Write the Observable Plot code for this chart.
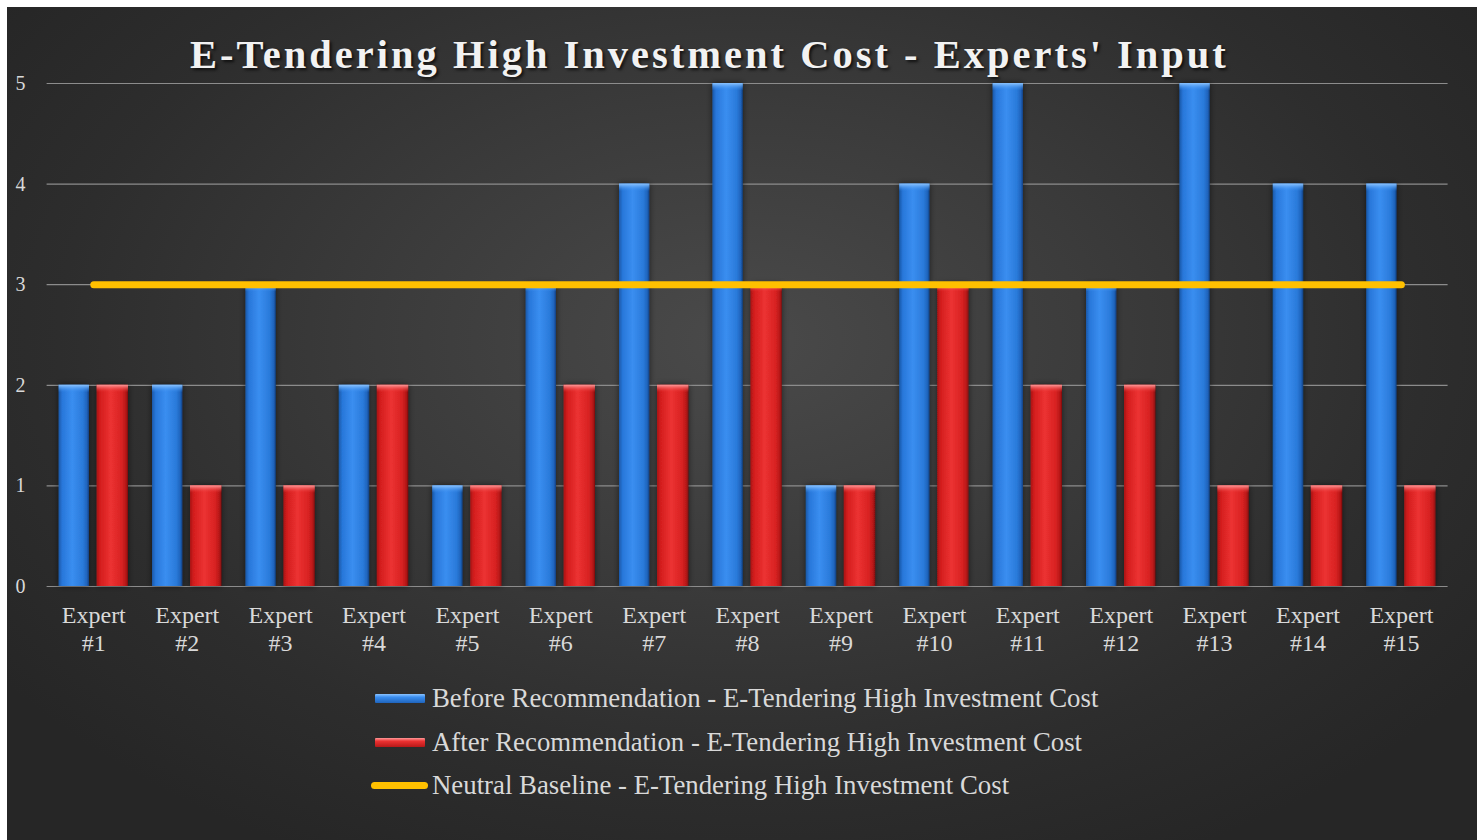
<!DOCTYPE html>
<html>
<head>
<meta charset="utf-8">
<script src="https://cdn.jsdelivr.net/npm/d3@7"></script>
<script src="https://cdn.jsdelivr.net/npm/@observablehq/plot@0.6"></script>
<style>
  html, body { margin: 0; padding: 0; background: #ffffff; }
  #chart {
    position: absolute; left: 7px; top: 7px; width: 1470px; height: 833px; overflow: hidden;
    background: radial-gradient(ellipse 62% 70% at 50% 40%, #4a4a4a 0%, #3b3b3b 40%, #2d2d2d 75%, #262626 100%);
    font-family: "Liberation Serif", "Times New Roman", serif;
  }
  #title {
    position: absolute; left: 183px; top: 28px; white-space: nowrap;
    font-size: 40.5px; line-height: 40px; font-weight: bold; letter-spacing: 3px;
    color: #f2f2f2; text-shadow: 2px 2px 3px rgba(0,0,0,0.7);
  }
  #plot { position: absolute; left: 0; top: 66px; }
  #legend { position: absolute; left: 364px; top: 670px; }
  .row { display: flex; align-items: center; height: 43.5px; color: #d9d9d9; font-size: 26.8px; white-space: nowrap; }
  .sw { width: 50px; height: 9px; margin: 0 7px 0 4px; border-radius: 1px; }
  .sw.line { width: 57px; height: 7px; border-radius: 4px; margin: 0 4px 0 0; background: #ffc000; }
</style>
</head>
<body>
<div id="chart">
  <div id="title"></div>
  <div id="plot"></div>
  <div id="legend"></div>
</div>
<script>
const title = "E-Tendering High Investment Cost - Experts' Input";
const experts = ["Expert #1","Expert #2","Expert #3","Expert #4","Expert #5","Expert #6","Expert #7","Expert #8","Expert #9","Expert #10","Expert #11","Expert #12","Expert #13","Expert #14","Expert #15"];
const before = [2, 2, 3, 2, 1, 3, 4, 5, 1, 4, 5, 3, 5, 4, 4];
const after = [2, 1, 1, 2, 1, 2, 2, 3, 1, 3, 2, 2, 1, 1, 1];
const baseline = [3, 3, 3, 3, 3, 3, 3, 3, 3, 3, 3, 3, 3, 3, 3];
const yTicks = [0, 1, 2, 3, 4, 5];
const seriesNames = [
  "Before Recommendation - E-Tendering High Investment Cost",
  "After Recommendation - E-Tendering High Investment Cost",
  "Neutral Baseline - E-Tendering High Investment Cost"
];

const rows = experts.map((e, i) => ({expert: e, before: before[i], after: after[i], baseline: baseline[i]}));
const capH = 0.075;

document.getElementById("title").textContent = title;

const chart = Plot.plot({
  width: 1470,
  height: 593,
  marginLeft: 39.6,
  marginRight: 29.4,
  marginTop: 10,
  marginBottom: 80,
  style: {background: "transparent", color: "#d9d9d9", fontFamily: "'Liberation Serif', 'Times New Roman', serif", overflow: "visible"},
  x: {domain: experts, padding: 0, round: false, label: null},
  y: {domain: [0, 5], label: null},
  marks: [
    Plot.gridY(yTicks, {stroke: "#8c8c8c", strokeOpacity: 1, strokeWidth: 1.2}),
    Plot.axisY(yTicks, {tickSize: 0, tickPadding: 21.6, fontSize: 20, fill: "#d9d9d9", label: null, tickFormat: d => String(d)}),
    Plot.axisX({tickSize: 0, tickPadding: 17, fontSize: 24, lineHeight: 1.15, fill: "#d9d9d9", label: null, tickFormat: d => d.replace(" ", "\n")}),
    Plot.barY(rows, {x: "expert", y: "before", fill: "url(#gBlue)", insetLeft: 12, insetRight: 51}),
    Plot.barY(rows, {x: "expert", y1: d => d.before - capH, y2: "before", fill: "url(#gBlueTop)", insetLeft: 12, insetRight: 51}),
    Plot.barY(rows, {x: "expert", y: "after", fill: "url(#gRed)", insetLeft: 50, insetRight: 12}),
    Plot.barY(rows, {x: "expert", y1: d => d.after - capH, y2: "after", fill: "url(#gRedTop)", insetLeft: 50, insetRight: 12}),
    Plot.lineY(rows, {x: "expert", y: "baseline", stroke: "#ffc000", strokeWidth: 7, strokeLinecap: "round"})
  ]
});

const defs = `
<defs>
  <linearGradient id="gBlue" x1="0" x2="1" y1="0" y2="0">
    <stop offset="0" stop-color="#1a58a8"/>
    <stop offset="0.12" stop-color="#2877da"/>
    <stop offset="0.45" stop-color="#3a8ef0"/>
    <stop offset="0.8" stop-color="#2a7ada"/>
    <stop offset="0.93" stop-color="#1f64bc"/>
    <stop offset="1" stop-color="#123f80"/>
  </linearGradient>
  <linearGradient id="gBlueTop" x1="0" x2="0" y1="0" y2="1">
    <stop offset="0" stop-color="#8cc4ff"/>
    <stop offset="1" stop-color="#3a8ef0" stop-opacity="0"/>
  </linearGradient>
  <linearGradient id="gRed" x1="0" x2="1" y1="0" y2="0">
    <stop offset="0" stop-color="#a81414"/>
    <stop offset="0.12" stop-color="#d41e1e"/>
    <stop offset="0.45" stop-color="#ec3232"/>
    <stop offset="0.8" stop-color="#d82222"/>
    <stop offset="0.93" stop-color="#b81818"/>
    <stop offset="1" stop-color="#7e0e0e"/>
  </linearGradient>
  <linearGradient id="gRedTop" x1="0" x2="0" y1="0" y2="1">
    <stop offset="0" stop-color="#ff9a9a"/>
    <stop offset="1" stop-color="#ec3232" stop-opacity="0"/>
  </linearGradient>
  <filter id="shadow" x="-30%" y="-5%" width="160%" height="110%">
    <feDropShadow dx="0" dy="0" stdDeviation="3" flood-color="#000" flood-opacity="0.55"/>
  </filter>
</defs>`;
chart.insertAdjacentHTML("afterbegin", defs);
chart.querySelectorAll('g[aria-label="bar"]').forEach((g, i) => { if (i % 2 === 0) g.setAttribute("filter", "url(#shadow)"); });
document.getElementById("plot").appendChild(chart);

const legend = document.getElementById("legend");
const swatches = [
  "linear-gradient(#8cc4ff 0%, #3a8ef0 35%, #1f64bc 100%)",
  "linear-gradient(#ff9a9a 0%, #ec3232 35%, #b81818 100%)",
  null
];
seriesNames.forEach((name, i) => {
  const row = document.createElement("div");
  row.className = "row";
  const sw = document.createElement("div");
  sw.className = swatches[i] ? "sw" : "sw line";
  if (swatches[i]) sw.style.background = swatches[i];
  const tx = document.createElement("span");
  tx.textContent = name;
  row.appendChild(sw);
  row.appendChild(tx);
  legend.appendChild(row);
});
</script>
</body>
</html>
